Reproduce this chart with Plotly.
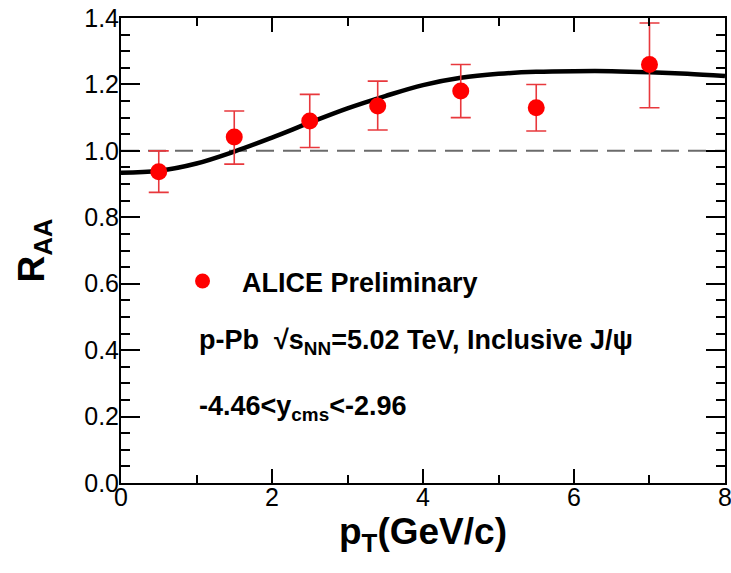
import plotly.graph_objects as go

# Data points (ALICE Preliminary)
pt = [0.5, 1.5, 2.5, 3.4, 4.5, 5.5, 7.0]
raa = [0.937, 1.042, 1.09, 1.135, 1.18, 1.13, 1.26]
err_hi = [0.063, 0.078, 0.08, 0.075, 0.08, 0.07, 0.125]
err_lo = [0.062, 0.082, 0.08, 0.072, 0.08, 0.07, 0.13]

# Model curve
curve_x = [0, 0.5, 1, 1.5, 2, 2.5, 3, 3.5, 4, 4.5, 5, 5.5, 6, 6.5, 7, 7.5, 8]
curve_y = [0.934, 0.94, 0.962, 0.998, 1.04, 1.085, 1.128, 1.165, 1.198, 1.22,
           1.232, 1.238, 1.24, 1.24, 1.237, 1.232, 1.225]

ref_x = [0, 8]
ref_y = [1.0, 1.0]

FONT = "Liberation Sans, Arial, sans-serif"
RED = "#ff0000"

fig = go.Figure()
fig.add_trace(go.Scatter(x=ref_x, y=ref_y, mode="lines",
                         line=dict(color="#6b6b6b", width=2, dash="18px,9px"),
                         showlegend=False, hoverinfo="skip"))
fig.add_trace(go.Scatter(x=curve_x, y=curve_y, mode="lines",
                         line=dict(color="black", width=4.5, shape="spline"),
                         showlegend=False))
fig.add_trace(go.Scatter(x=pt, y=raa, mode="markers",
                         marker=dict(color=RED, size=17, symbol="circle"),
                         error_y=dict(type="data", symmetric=False, array=err_hi,
                                      arrayminus=err_lo, color="#e8383d",
                                      thickness=1.6, width=10),
                         showlegend=False))

# Legend marker drawn as a trace
fig.add_trace(go.Scatter(x=[1.08], y=[0.608], mode="markers",
                         marker=dict(color=RED, size=15), showlegend=False,
                         hoverinfo="skip"))

annots = [
    dict(x=1.57, y=0.603, text="<b>ALICE Preliminary</b>", size=27),
    dict(x=1.0, y=0.425, text="<b>p-Pb  √s<sub>NN</sub>=5.02 TeV, Inclusive J/ψ</b>", size=27),
    dict(x=1.0, y=0.225, text="<b>-4.46&lt;y<sub>cms</sub>&lt;-2.96</b>", size=27),
]
for a in annots:
    fig.add_annotation(x=a["x"], y=a["y"], xref="x", yref="y", text=a["text"],
                       showarrow=False, xanchor="left", yanchor="middle",
                       font=dict(family=FONT, size=a["size"], color="black"))

axis_common = dict(showline=True, linecolor="black", linewidth=2, mirror="ticks",
                   ticks="inside", tickcolor="black", tickwidth=1.5,
                   showgrid=False, zeroline=False,
                   tickfont=dict(family=FONT, size=25, color="black"))

fig.update_xaxes(range=[0, 8.0001], dtick=2, tick0=0, ticklen=14,
                 ticklabelstandoff=-9, ticklabeloverflow="allow",
                 automargin="height",
                 minor=dict(dtick=1, ticks="inside", ticklen=8, tickcolor="black",
                            tickwidth=1.5, showgrid=False),
                 title=dict(text="<b>p<sub>T</sub>(GeV/c)</b>",
                            font=dict(family=FONT, size=37, color="black"),
                            standoff=8),
                 **axis_common)
fig.update_yaxes(range=[0, 1.4], dtick=0.2, tick0=0, tickformat=".1f", ticklen=19,
                 ticklabelstandoff=-5,
                 minor=dict(dtick=0.05, ticks="inside", ticklen=9, tickcolor="black",
                            tickwidth=1.5, showgrid=False),
                 title=dict(text="<b>R<sub>AA</sub></b>",
                            font=dict(family=FONT, size=37, color="black"),
                            standoff=28),
                 **axis_common)

fig.update_layout(width=731, height=573, margin=dict(l=121, r=4, t=18, b=90),
                  plot_bgcolor="white", paper_bgcolor="white",
                  font=dict(family=FONT, color="black"))

fig.write_html("out.html")
